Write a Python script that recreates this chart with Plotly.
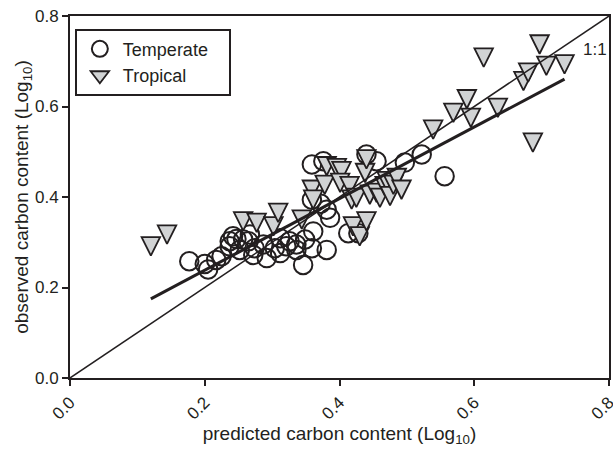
import plotly.graph_objects as go

# ---- data ----
temp_x = [0.177, 0.200, 0.205, 0.217, 0.225, 0.237, 0.247, 0.257, 0.265, 0.242,
          0.237, 0.252, 0.267, 0.274, 0.287, 0.272, 0.292, 0.304, 0.312, 0.321,
          0.326, 0.336, 0.349, 0.346, 0.312, 0.336, 0.359, 0.361, 0.381, 0.359,
          0.381, 0.386, 0.372, 0.413, 0.428, 0.359, 0.376, 0.440, 0.455, 0.497,
          0.522, 0.556]
temp_y = [0.258, 0.252, 0.240, 0.261, 0.269, 0.302, 0.307, 0.306, 0.302, 0.313,
          0.291, 0.283, 0.317, 0.287, 0.295, 0.272, 0.265, 0.287, 0.309, 0.291,
          0.302, 0.295, 0.306, 0.250, 0.276, 0.283, 0.287, 0.324, 0.283, 0.394,
          0.372, 0.354, 0.385, 0.320, 0.320, 0.472, 0.479, 0.494, 0.479, 0.476,
          0.494, 0.446]

trop_x = [0.120, 0.144, 0.257, 0.277, 0.302, 0.309, 0.344, 0.359, 0.361, 0.378,
          0.381, 0.396, 0.403, 0.401, 0.415, 0.418, 0.425, 0.438, 0.440, 0.445,
          0.455, 0.460, 0.467, 0.470, 0.475, 0.480, 0.485, 0.492, 0.420, 0.430,
          0.440, 0.539, 0.569, 0.589, 0.595, 0.635, 0.614, 0.673, 0.680, 0.697,
          0.707, 0.734, 0.687]
trop_y = [0.291, 0.317, 0.346, 0.343, 0.335, 0.365, 0.350, 0.416, 0.394, 0.427,
          0.468, 0.464, 0.457, 0.431, 0.424, 0.394, 0.398, 0.453, 0.483, 0.405,
          0.409, 0.398, 0.424, 0.435, 0.402, 0.427, 0.442, 0.416, 0.335, 0.313,
          0.346, 0.549, 0.586, 0.616, 0.575, 0.597, 0.708, 0.656, 0.675, 0.737,
          0.690, 0.693, 0.520]

fit_slope = 0.791
fit_intercept = 0.080
identity_range = [0.0, 0.8]

tick_vals = [0.0, 0.2, 0.4, 0.6, 0.8]
tick_text = ["0.0", "0.2", "0.4", "0.6", "0.8"]

# ---- styling ----
INK = "#231f20"
GREY = "#d1d3d4"
FONT = "Liberation Sans, Arial, sans-serif"
W, H = 613, 450
M_L, M_R, M_T, M_B = 70, 4, 16, 72
plot_h = H - M_T - M_B
TRI_SIZE = 18.5
# arrow-down symbol has its tip at the data point; shift its axis so the
# triangle is centred on the value
tri_shift = (TRI_SIZE / 2) / plot_h * (identity_range[1] - identity_range[0])

fit_x = [min(temp_x + trop_x), max(temp_x + trop_x)]
fit_y = [fit_intercept + fit_slope * v for v in fit_x]

fig = go.Figure()

fig.add_trace(go.Scatter(
    x=temp_x, y=temp_y, mode="markers", name="Temperate&nbsp;&nbsp;&nbsp;",
    marker=dict(symbol="circle-open", size=18.5, color=INK,
                line=dict(color=INK, width=2)),
    xaxis="x", yaxis="y", showlegend=True))

fig.add_trace(go.Scatter(
    x=trop_x, y=trop_y, mode="markers", name="Tropical",
    marker=dict(symbol="arrow-down", size=TRI_SIZE, color=GREY,
                line=dict(color=INK, width=1.8)),
    xaxis="x", yaxis="y2", showlegend=False))

# legend-only entry for Tropical
fig.add_trace(go.Scatter(
    x=[None], y=[None], mode="markers", name="Tropical",
    marker=dict(symbol="triangle-down", size=16, color=GREY,
                line=dict(color=INK, width=1.8)),
    xaxis="x", yaxis="y", showlegend=True))

fig.add_trace(go.Scatter(
    x=identity_range, y=identity_range, mode="lines",
    line=dict(color=INK, width=1.5), xaxis="x", yaxis="y3",
    showlegend=False, hoverinfo="skip"))

fig.add_trace(go.Scatter(
    x=fit_x, y=fit_y, mode="lines",
    line=dict(color=INK, width=3), xaxis="x", yaxis="y3",
    showlegend=False, hoverinfo="skip"))

axis_common = dict(
    range=identity_range, tickvals=tick_vals, ticktext=tick_text,
    showgrid=False, zeroline=False, showline=True, linecolor=INK, linewidth=2,
    mirror=True, ticks="outside", ticklen=6, tickwidth=2, tickcolor=INK,
    tickfont=dict(family=FONT, size=17, color=INK),
    ticklabeloverflow="allow",
)

fig.update_layout(
    width=W, height=H,
    margin=dict(l=M_L, r=M_R, t=M_T, b=M_B, autoexpand=False),
    paper_bgcolor="white", plot_bgcolor="white",
    font=dict(family=FONT, color=INK),
    xaxis=dict(**axis_common, tickangle=-45,
               title=dict(text="predicted carbon content (Log<sub>10</sub>)",
                          font=dict(family=FONT, size=19, color=INK), standoff=4)),
    yaxis=dict(**axis_common, automargin=True,
               title=dict(text="observed carbon content (Log<sub>10</sub>)",
                          font=dict(family=FONT, size=19, color=INK), standoff=0)),
    yaxis2=dict(range=[identity_range[0] + tri_shift, identity_range[1] + tri_shift],
                overlaying="y", visible=False),
    yaxis3=dict(range=identity_range, overlaying="y", visible=False),
    legend=dict(x=0.009, y=0.965, xanchor="left", yanchor="top",
                bgcolor="white", bordercolor=INK, borderwidth=2,
                font=dict(family=FONT, size=18, color=INK),
                tracegroupgap=0, itemwidth=36),
    annotations=[dict(x=0.779, y=0.726, xref="x", yref="y", text="1:1",
                      showarrow=False, font=dict(family=FONT, size=17, color=INK))],
)

fig.write_html("out.html",
               config={"displayModeBar": False},
               post_script="document.body.style.margin='0';"
                           "document.body.style.overflow='hidden';")
